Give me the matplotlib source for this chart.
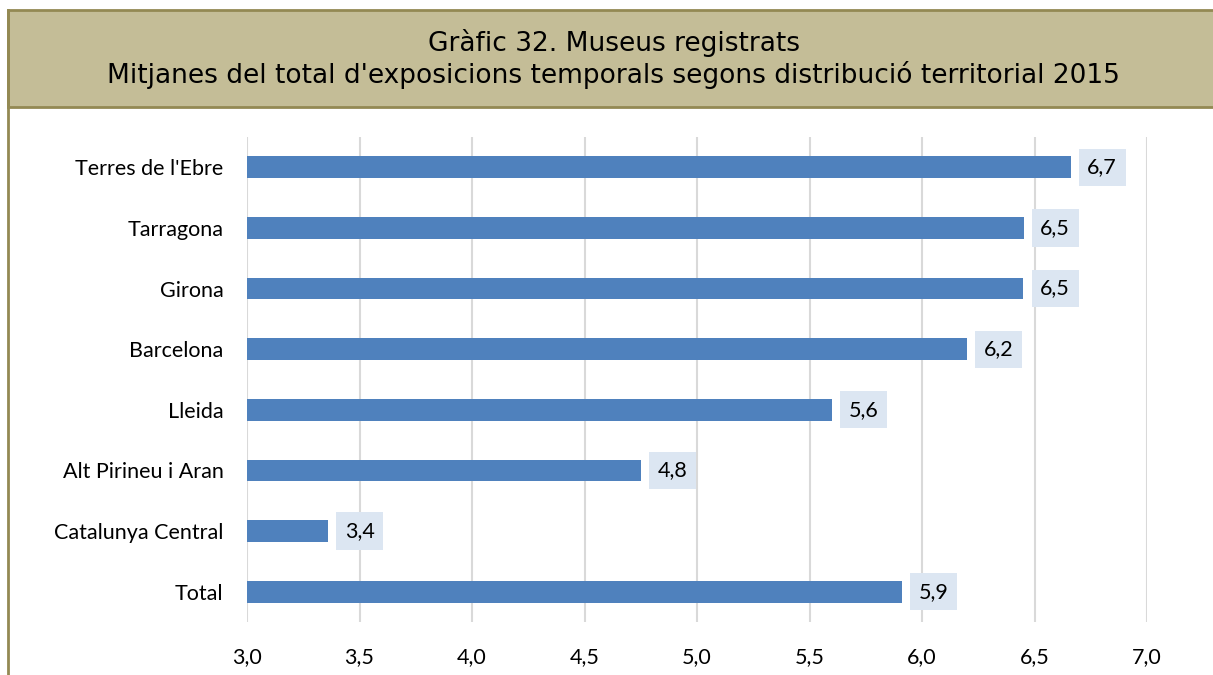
import matplotlib.pyplot as plt
from matplotlib.patches import Rectangle
import numpy as np

## Data
regions = ["Terres de l'Ebre", "Tarragona", "Girona", "Barcelona", "Lleida",
           "Alt Pirineu i Aran", "Catalunya Central", "Total"]
values = [6.66, 6.452, 6.451, 6.20, 5.60, 4.75, 3.36, 5.91]
xticks = [3.0, 3.5, 4.0, 4.5, 5.0, 5.5, 6.0, 6.5, 7.0]

label_font = 'Lato'
fs = 15.5

fig = plt.figure(figsize=(12.13, 6.75), dpi=100)

## Title band and left frame line
fig.patches.append(Rectangle((8/1213, 1 - 107/675), 1.0, 97/675, transform=fig.transFigure,
                             facecolor='#c4bd97', edgecolor='#938953', linewidth=2, zorder=0))
fig.add_artist(plt.Line2D([8/1213, 8/1213], [0, 1 - 10/675], transform=fig.transFigure,
                          color='#938953', linewidth=2))
fig.text(0.506, 1 - 43/675, "Gràfic 32. Museus registrats", ha='center', va='center',
         fontsize=19, family='DejaVu Sans')
fig.text(0.506, 1 - 75/675, "Mitjanes del total d'exposicions temporals segons distribució territorial 2015",
         ha='center', va='center', fontsize=19, family='DejaVu Sans')

## Bars
ax = fig.add_axes([247/1213, 1 - 622/675, 900/1213, 485/675])
y = np.arange(len(regions))
ax.barh(y, values, height=0.36, color='#4f81bd', zorder=3)
ax.set_xlim(3.0, 7.0)
ax.set_ylim(len(regions) - 0.5, -0.5)
ax.set_yticks(y)
ax.set_yticklabels(regions, fontsize=fs, family=label_font)
ax.set_xticks(xticks)
ax.set_xticklabels([f"{t:.1f}".replace('.', ',') for t in xticks], fontsize=fs, family=label_font)
ax.tick_params(length=0)
ax.tick_params(axis='y', pad=17)
ax.tick_params(axis='x', pad=18)
ax.grid(axis='x', color='#d9d9d9', linewidth=1.5, zorder=0)
for s in ax.spines.values():
    s.set_visible(False)

## Value labels
for yi, v in zip(y, values):
    ax.annotate(f"{v:.1f}".replace('.', ','), (v, yi), xytext=(12, 0), textcoords='offset points',
                ha='left', va='center', fontsize=fs, family=label_font, zorder=4,
                bbox=dict(boxstyle='square,pad=0.4', facecolor='#dce6f2', edgecolor='none'))

plt.savefig('out.png', dpi=100)
